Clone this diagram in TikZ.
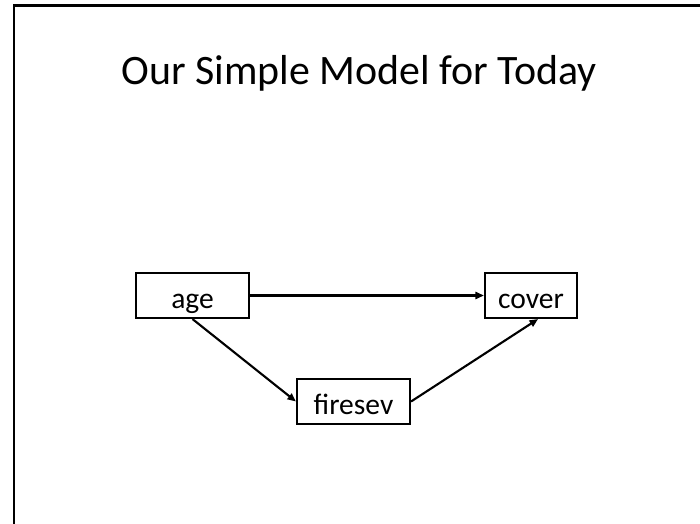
\documentclass[tikz,border=0pt]{standalone}
\usepackage{fontspec}
\setmainfont{Carlito}
\usetikzlibrary{arrows.meta}

\begin{document}
\begin{tikzpicture}[x=0.025cm, y=-0.025cm,
  var/.style={draw, line width=1.5pt, minimum height=1.125cm, font=\fontsize{21}{24}\selectfont, inner sep=0pt, text height=18pt, text depth=0pt},
  arrow/.style={-{Triangle[length=6pt, width=5pt]}, line width=1.5pt}
]
\useasboundingbox (0,0) rectangle (700,524);
% slide frame
\draw[line width=1.9pt] (14,540) -- (14,5.5) -- (720,5.5);

\node[anchor=base, font=\fontsize{29.8}{35}\selectfont] (title) at (359,85) {Our Simple Model for Today};

\node[var, minimum width=2.825cm] (age) at (192.5,295.5) {age};
\node[var, minimum width=2.3cm] (cover) at (531,295.5) {cover};
\node[var, minimum width=2.825cm] (fire) at (353.5,401.5) {firesev};

\draw[arrow] (age) -- (cover);
\draw[arrow] (age.south) -- (fire.west);
\draw[arrow] (fire.east) -- ([xshift=5pt]cover.south);
\end{tikzpicture}
\end{document}
